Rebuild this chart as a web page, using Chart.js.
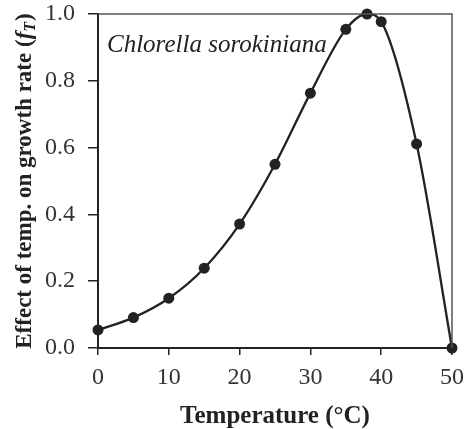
<!DOCTYPE html>
<html>
<head>
<meta charset="utf-8">
<script src="https://cdn.jsdelivr.net/npm/chart.js@4"></script>
<style>
  html, body { margin: 0; padding: 0; background: #fff; }
  #wrap { width: 466px; height: 429px; }
</style>
</head>
<body>
<div id="wrap"><canvas id="tempChart"></canvas></div>
<script>
// Temperature response of Chlorella sorokiniana
const temps = [0, 5, 10, 15, 20, 25, 30, 35, 38, 40, 45, 50];
const fT = [0.054, 0.091, 0.149, 0.239, 0.371, 0.55, 0.763, 0.954, 1.0, 0.977, 0.611, 0.0];
const xTicks = [0, 10, 20, 30, 40, 50];
const yTicks = [0, 0.2, 0.4, 0.6, 0.8, 1.0];

const ink = '#222';
const serif = '"Liberation Serif", "Times New Roman", serif';

// frame on top/right, species name, and the rotated y title with italic f and subscript T
const extras = {
    id: 'extras',
    afterDraw(chart) {
        const ctx = chart.ctx;
        const a = chart.chartArea;
        ctx.save();
        ctx.strokeStyle = '#555';
        ctx.lineWidth = 1.5;
        ctx.beginPath();
        ctx.moveTo(a.left, a.top);
        ctx.lineTo(a.right, a.top);
        ctx.lineTo(a.right, a.bottom);
        ctx.stroke();

        ctx.fillStyle = ink;
        ctx.font = 'italic 25px ' + serif;
        ctx.textBaseline = 'alphabetic';
        ctx.fillText('Chlorella sorokiniana', 107, 52);

        // y axis title
        ctx.translate(31, (a.top + a.bottom) / 2);
        ctx.rotate(-Math.PI / 2);
        const parts = [
            { t: 'Effect of temp. on growth rate (', f: 'bold 23px ' + serif, dy: 0 },
            { t: 'f', f: 'bold italic 23px ' + serif, dy: 0 },
            { t: 'T', f: 'bold italic 16px ' + serif, dy: 4 },
            { t: ')', f: 'bold 23px ' + serif, dy: 0 }
        ];
        let total = 0;
        parts.forEach(p => { ctx.font = p.f; total += ctx.measureText(p.t).width + (p.t === 'T' ? 1 : 0); });
        let x = -total / 2;
        parts.forEach(p => {
            ctx.font = p.f;
            ctx.fillText(p.t, x, p.dy);
            x += ctx.measureText(p.t).width + (p.t === 'T' ? 1 : 0);
        });
        ctx.restore();
    }
};

new Chart(document.getElementById('tempChart'), {
    type: 'scatter',
    data: {
        datasets: [{
            data: temps.map((t, i) => ({ x: t, y: fT[i] })),
            showLine: true,
            borderColor: ink,
            borderWidth: 2.3,
            backgroundColor: ink,
            pointRadius: 5.5,
            pointBorderWidth: 0,
            cubicInterpolationMode: 'monotone',
            clip: false
        }]
    },
    options: {
        responsive: true,
        maintainAspectRatio: false,
        animation: false,
        layout: { padding: { top: 14, right: 14, left: 0, bottom: 0 } },
        plugins: { legend: { display: false }, tooltip: { enabled: false } },
        scales: {
            x: {
                type: 'linear',
                min: 0, max: 50,
                afterBuildTicks: s => { s.ticks = xTicks.map(v => ({ value: v })); },
                afterFit: s => { s.height = 81; s.paddingLeft = 0; s.paddingRight = 0; },
                grid: { drawOnChartArea: false, drawTicks: true, tickLength: 7, color: ink, lineWidth: 1.5 },
                border: { display: true, color: ink, width: 2 },
                ticks: { color: '#333', font: { family: serif, size: 24 }, padding: 8, maxRotation: 0 },
                title: { display: true, text: 'Temperature (°C)', color: ink, font: { family: serif, size: 25, weight: 'bold', lineHeight: 1 }, padding: { top: 0, bottom: 0 } }
            },
            y: {
                min: 0, max: 1,
                afterBuildTicks: s => { s.ticks = yTicks.map(v => ({ value: v })); },
                afterFit: s => { s.width = 98; s.paddingTop = 0; s.paddingBottom = 0; },
                grid: { drawOnChartArea: false, drawTicks: true, tickLength: 10, color: ink, lineWidth: 1.5 },
                border: { display: true, color: ink, width: 2 },
                ticks: { color: '#333', font: { family: serif, size: 24 }, padding: 13, callback: v => v.toFixed(1) }
            }
        }
    },
    plugins: [extras]
});
</script>
</body>
</html>
